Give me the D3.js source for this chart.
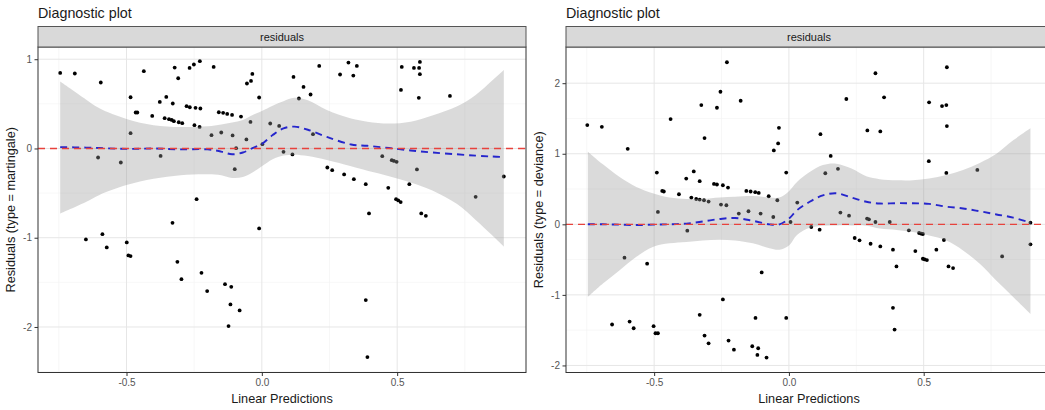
<!DOCTYPE html>
<html>
<head>
<meta charset="utf-8">
<script src="https://cdn.jsdelivr.net/npm/d3@7"></script>
<style>
  body { margin: 0; background: #fff; }
  svg { display: block; font-family: "Liberation Sans", Arial, sans-serif; }
</style>
</head>
<body>
<svg id="chart" width="1045" height="410"></svg>
<script>
// residuals vs linear predictions
const martingalePoints = [
  [-0.745,0.847],[-0.691,0.840],[-0.595,0.739],[-0.436,0.866],[-0.485,0.574],[-0.466,0.403],[-0.460,0.403],
  [-0.485,0.171],[-0.405,0.365],[-0.605,-0.101],[-0.521,-0.157],[-0.377,0.522],[-0.353,0.578],[-0.329,0.504],
  [-0.359,0.339],[-0.343,0.328],[-0.333,0.320],[-0.325,0.306],[-0.307,0.294],[-0.294,0.283],[-0.322,0.907],
  [-0.309,0.787],[-0.267,0.903],[-0.251,0.941],[-0.229,0.978],[-0.278,0.474],[-0.266,0.462],[-0.245,0.455],
  [-0.227,0.448],[-0.249,0.261],[-0.230,0.242],[-0.374,-0.083],[-0.178,0.914],[-0.186,0.149],[-0.150,0.179],
  [-0.159,0.406],[-0.143,0.399],[-0.128,0.387],[-0.110,0.376],[-0.077,0.358],[-0.042,0.298],[-0.108,0.146],
  [-0.057,0.101],[-0.100,-0.232],[-0.055,0.728],[-0.040,0.757],[-0.035,0.835],[-0.010,0.571],[-0.241,-0.568],
  [0.212,0.925],[0.320,0.963],[0.351,0.925],[0.289,0.829],[0.338,0.817],[0.117,0.802],[0.154,0.690],
  [0.137,0.560],[0.180,0.605],[0.031,0.280],[0.064,0.253],[0.080,-0.038],[0.113,-0.067],[0.189,0.160],
  [0.242,-0.213],[0.260,-0.243],[0.304,-0.291],[0.340,-0.344],[0.384,-0.400],[0.467,-0.441],[0.445,-0.086],
  [0.480,-0.131],[0.488,-0.139],[0.498,-0.150],[0.496,-0.568],[0.504,-0.582],[0.513,-0.601],[0.517,0.914],
  [0.562,0.903],[0.581,0.903],[0.584,0.970],[0.584,0.832],[0.514,0.656],[0.580,0.567],[0.695,0.589],
  [0.573,-0.235],[0.545,-0.400],[0.790,-0.542],[0.894,-0.314],[-0.650,-1.019],[-0.589,-0.960],[-0.573,-1.109],
  [-0.499,-1.053],[-0.493,-1.198],[-0.485,-1.206],[-0.330,-0.833],[-0.312,-1.270],[-0.297,-1.464],[-0.223,-1.393],
  [-0.202,-1.598],[-0.136,-1.520],[-0.113,-1.550],[-0.116,-1.747],[-0.082,-1.814],[-0.123,-1.990],[-0.010,-0.896],
  [0.396,-0.728],[0.589,-0.728],[0.606,-0.755],[0.384,-1.699],[0.390,-2.337],[-0.095,0.003],[0.002,0.048]
];

const deviancePoints = [
  [-0.748,1.406],[-0.694,1.382],[-0.598,1.070],[-0.439,1.491],[-0.490,0.734],[-0.470,0.473],[-0.464,0.465],
  [-0.408,0.426],[-0.381,0.649],[-0.353,0.749],[-0.325,1.690],[-0.313,1.222],[-0.331,0.611],
  [-0.362,0.379],[-0.344,0.359],[-0.331,0.351],[-0.315,0.341],[-0.298,0.322],
  [-0.278,0.572],[-0.267,0.564],[-0.245,0.554],[-0.226,0.521],[-0.267,1.652],[-0.254,1.879],[-0.230,2.297],
  [-0.252,0.280],[-0.232,0.270],[-0.179,1.751],[-0.158,0.473],[-0.142,0.465],[-0.125,0.455],[-0.112,0.445],
  [-0.075,0.398],[-0.043,0.341],[-0.056,1.047],[-0.040,1.146],[-0.037,1.368],[-0.010,0.734],
  [-0.486,0.175],[-0.186,0.152],[-0.150,0.185],[-0.105,0.152],[-0.058,0.104],[0.031,0.308],[0.006,0.033],
  [-0.377,-0.090],[-0.610,-0.473],[-0.526,-0.558],[-0.101,-0.682],
  [-0.656,-1.420],[-0.591,-1.378],[-0.576,-1.473],[-0.502,-1.444],[-0.495,-1.544],[-0.486,-1.544],
  [-0.331,-1.283],[-0.313,-1.577],[-0.298,-1.686],[-0.245,-1.065],[-0.224,-1.648],[-0.204,-1.776],
  [-0.136,-1.728],[-0.114,-1.756],[-0.117,-1.851],[-0.083,-1.889],[-0.124,-1.326],[-0.010,-1.326],
  [0.117,1.278],[0.155,0.970],[0.135,0.724],[0.182,0.786],[0.213,1.776],[0.291,1.331],[0.339,1.317],
  [0.321,2.141],[0.353,1.800],[0.520,1.729],[0.568,1.676],[0.584,1.690],[0.586,2.226],[0.586,1.392],
  [0.519,0.895],[0.584,0.729],[0.699,0.771],
  [0.191,0.166],[0.223,0.123],[0.290,0.081],[0.297,0.071],[0.321,0.033],[0.374,0.033],[0.083,-0.038],
  [0.114,-0.076],[0.244,-0.194],[0.262,-0.227],[0.303,-0.275],[0.339,-0.313],[0.386,-0.360],[0.399,-0.597],
  [0.445,-0.085],[0.469,-0.379],[0.483,-0.123],[0.491,-0.133],[0.497,-0.137],[0.497,-0.488],[0.504,-0.497],
  [0.512,-0.507],[0.547,-0.360],[0.575,-0.222],[0.592,-0.597],[0.609,-0.620],[0.791,-0.455],[0.896,0.024],
  [0.896,-0.284],[0.386,-1.183],[0.392,-1.491]
];

// loess fit and its confidence band (martingale)
const martBandX = [-0.745,-0.65,-0.6,-0.5,-0.4,-0.3,-0.2,-0.15,-0.11,-0.07,-0.03,0.0,0.04,0.08,0.12,0.17,0.24,0.33,0.39,0.47,0.55,0.63,0.72,0.79,0.85,0.894];
const martFit   = [0.015,0.01,0.005,-0.005,0.0,-0.01,-0.01,-0.035,-0.065,-0.045,0.01,0.05,0.15,0.225,0.245,0.21,0.13,0.045,0.03,0.005,-0.022,-0.045,-0.065,-0.08,-0.09,-0.095];
const martUpper = [0.75,0.55,0.45,0.33,0.26,0.24,0.25,0.27,0.29,0.32,0.38,0.42,0.48,0.53,0.567,0.54,0.43,0.335,0.30,0.28,0.30,0.37,0.47,0.60,0.76,0.88];
const martLower = [-0.73,-0.60,-0.52,-0.41,-0.34,-0.30,-0.29,-0.30,-0.33,-0.32,-0.26,-0.20,-0.12,-0.08,-0.07,-0.085,-0.13,-0.20,-0.25,-0.31,-0.38,-0.47,-0.62,-0.80,-0.97,-1.10];

// loess fit and its confidence band (deviance)
const devBandX = [-0.746,-0.69,-0.628,-0.566,-0.505,-0.443,-0.38,-0.32,-0.257,-0.2,-0.134,-0.072,-0.035,0.0,0.03,0.077,0.126,0.176,0.232,0.287,0.337,0.4,0.46,0.52,0.584,0.646,0.708,0.77,0.832,0.896];
const devFit   = [0.0,0.0,-0.005,-0.01,-0.005,0.0,0.01,0.04,0.075,0.09,0.05,0.0,0.0,0.08,0.2,0.32,0.41,0.44,0.38,0.32,0.295,0.30,0.298,0.29,0.25,0.225,0.185,0.14,0.095,0.024];
const devUpper = [1.03,0.85,0.67,0.53,0.44,0.38,0.36,0.36,0.38,0.39,0.40,0.38,0.38,0.47,0.60,0.74,0.84,0.86,0.79,0.68,0.64,0.625,0.625,0.65,0.70,0.77,0.87,1.0,1.19,1.36];
const devLower = [-1.03,-0.84,-0.65,-0.46,-0.32,-0.27,-0.25,-0.23,-0.22,-0.23,-0.27,-0.34,-0.36,-0.30,-0.15,-0.05,-0.02,-0.015,-0.015,-0.02,-0.06,-0.08,-0.11,-0.16,-0.23,-0.37,-0.56,-0.80,-1.03,-1.27];

const xTicks = [-0.5, 0, 0.5];
const xMinor = [-0.75, -0.25, 0.25, 0.75];
const martTicks = [-2, -1, 0, 1];
const martMinor = [-2.5, -1.5, -0.5, 0.5];
const devTicks = [-2, -1, 0, 1, 2];
const devMinor = [-1.5, -0.5, 0.5, 1.5, 2.5];

const svg = d3.select('#chart');
svg.append('rect').attr('width', 1045).attr('height', 410).attr('fill', '#fff');

function drawPanel(cfg) {
  const top = 47, bottom = 372.5, stripTop = 26.5;
  const x = d3.scaleLinear().domain([-0.827, 0.976]).range([cfg.left, cfg.right]);
  const y = d3.scaleLinear().domain(cfg.yDomain).range([bottom, top]);
  const g = svg.append('g');

  g.append('text')
    .attr('x', cfg.left).attr('y', 18)
    .attr('font-size', 14.3).attr('fill', '#1a1a1a')
    .text('Diagnostic plot');

  const clipId = 'clip-' + cfg.id;
  g.append('clipPath').attr('id', clipId)
    .append('rect')
    .attr('x', cfg.left).attr('y', top)
    .attr('width', cfg.right - cfg.left).attr('height', bottom - top);

  const plot = g.append('g').attr('clip-path', `url(#${clipId})`);

  // grid
  plot.selectAll('.vminor').data(xMinor).enter().append('line')
    .attr('x1', d => x(d)).attr('x2', d => x(d)).attr('y1', top).attr('y2', bottom)
    .attr('stroke', '#f2f2f2').attr('stroke-width', 0.6);
  plot.selectAll('.hminor').data(cfg.minor).enter().append('line')
    .attr('x1', cfg.left).attr('x2', cfg.right).attr('y1', d => y(d)).attr('y2', d => y(d))
    .attr('stroke', '#f2f2f2').attr('stroke-width', 0.6);
  plot.selectAll('.vmajor').data(xTicks).enter().append('line')
    .attr('x1', d => x(d)).attr('x2', d => x(d)).attr('y1', top).attr('y2', bottom)
    .attr('stroke', '#e6e6e6').attr('stroke-width', 1);
  plot.selectAll('.hmajor').data(cfg.ticks).enter().append('line')
    .attr('x1', cfg.left).attr('x2', cfg.right).attr('y1', d => y(d)).attr('y2', d => y(d))
    .attr('stroke', '#e6e6e6').attr('stroke-width', 1);

  // points
  plot.selectAll('.dot').data(cfg.points).enter().append('circle')
    .attr('cx', d => x(d[0])).attr('cy', d => y(d[1]))
    .attr('r', 1.9).attr('fill', '#000');

  // confidence band + fit
  const band = cfg.bandX.map((v, i) => ({ x: v, lo: cfg.lower[i], hi: cfg.upper[i], fit: cfg.fit[i] }));
  plot.append('path').datum(band)
    .attr('d', d3.area().x(d => x(d.x)).y0(d => y(d.lo)).y1(d => y(d.hi)).curve(d3.curveCatmullRom))
    .attr('fill', '#999999').attr('fill-opacity', 0.36);
  plot.append('path').datum(band)
    .attr('d', d3.line().x(d => x(d.x)).y(d => y(d.fit)).curve(d3.curveCatmullRom))
    .attr('fill', 'none').attr('stroke', '#2626cc').attr('stroke-width', 1.9)
    .attr('stroke-dasharray', '7,5');

  // zero reference line
  plot.append('line')
    .attr('x1', cfg.left).attr('x2', cfg.right).attr('y1', y(0)).attr('y2', y(0))
    .attr('stroke', '#e8423c').attr('stroke-width', 1.3).attr('stroke-dasharray', '7,5');

  // border + strip
  g.append('rect')
    .attr('x', cfg.left).attr('y', top).attr('width', cfg.right - cfg.left).attr('height', bottom - top)
    .attr('fill', 'none').attr('stroke', '#333').attr('stroke-width', 1);
  g.append('rect')
    .attr('x', cfg.left).attr('y', stripTop).attr('width', cfg.right - cfg.left).attr('height', top - stripTop)
    .attr('fill', '#d9d9d9').attr('stroke', '#555').attr('stroke-width', 1);
  g.append('text')
    .attr('x', (cfg.left + cfg.right) / 2).attr('y', 40.5)
    .attr('text-anchor', 'middle').attr('font-size', 11).attr('fill', '#1a1a1a')
    .text('residuals');

  // axes
  const xAxis = g.append('g')
    .attr('transform', `translate(0,${bottom})`)
    .call(d3.axisBottom(x).tickValues(xTicks).tickFormat(d => d.toFixed(1)).tickSize(3.5).tickPadding(3).tickSizeOuter(0));
  const yAxis = g.append('g')
    .attr('transform', `translate(${cfg.left},0)`)
    .call(d3.axisLeft(y).tickValues(cfg.ticks).tickFormat(d => String(d)).tickSize(3.5).tickPadding(2.5).tickSizeOuter(0));
  [xAxis, yAxis].forEach(a => {
    a.select('.domain').remove();
    a.selectAll('line').attr('stroke', '#333');
    a.selectAll('text').attr('fill', '#555').attr('font-size', 10)
      .attr('font-family', '"Liberation Sans", Arial, sans-serif');
  });

  g.append('text')
    .attr('x', (cfg.left + cfg.right) / 2).attr('y', 403)
    .attr('text-anchor', 'middle').attr('font-size', 12.7).attr('fill', '#1a1a1a')
    .text('Linear Predictions');
  g.append('text')
    .attr('transform', `translate(${cfg.left - 23},${(top + bottom) / 2}) rotate(-90)`)
    .attr('text-anchor', 'middle').attr('font-size', 12.7).attr('fill', '#1a1a1a')
    .text(cfg.yTitle);
}

drawPanel({
  id: 'mart', left: 38, right: 526, yDomain: [-2.51, 1.137],
  ticks: martTicks, minor: martMinor, points: martingalePoints,
  bandX: martBandX, fit: martFit, lower: martLower, upper: martUpper,
  yTitle: 'Residuals (type = martingale)'
});

drawPanel({
  id: 'dev', left: 566, right: 1052, yDomain: [-2.10, 2.513],
  ticks: devTicks, minor: devMinor, points: deviancePoints,
  bandX: devBandX, fit: devFit, lower: devLower, upper: devUpper,
  yTitle: 'Residuals (type = deviance)'
});
</script>
</body>
</html>
